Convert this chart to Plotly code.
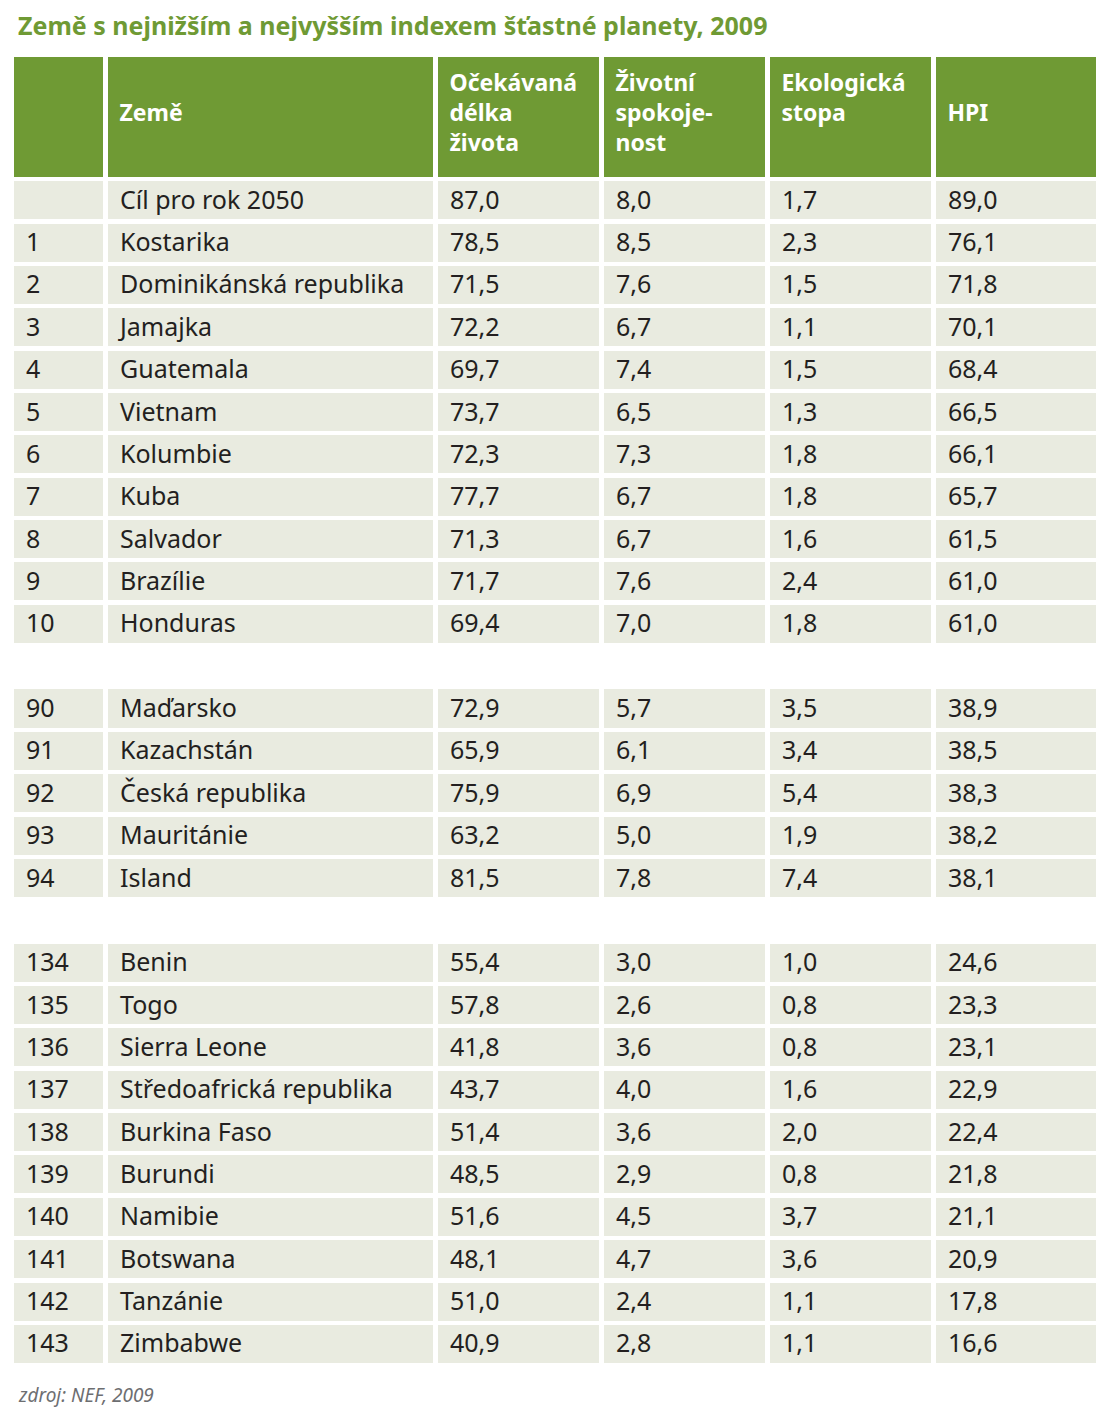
import plotly.graph_objects as go

title = "Země s nejnižším a nejvyšším indexem šťastné planety, 2009"
source = "zdroj: NEF, 2009"

headers = ["", "<br>Země", "Očekávaná<br>délka<br>života", "Životní<br>spokoje-<br>nost",
           "Ekologická<br>stopa", "<br>HPI"]

ranks = ["", "1", "2", "3", "4", "5", "6", "7", "8", "9", "10", None,
         "90", "91", "92", "93", "94", None,
         "134", "135", "136", "137", "138", "139", "140", "141", "142", "143"]
countries = ["Cíl pro rok 2050", "Kostarika", "Dominikánská republika", "Jamajka", "Guatemala",
             "Vietnam", "Kolumbie", "Kuba", "Salvador", "Brazílie", "Honduras", None,
             "Maďarsko", "Kazachstán", "Česká republika", "Mauritánie", "Island", None,
             "Benin", "Togo", "Sierra Leone", "Středoafrická republika", "Burkina Faso",
             "Burundi", "Namibie", "Botswana", "Tanzánie", "Zimbabwe"]
life_exp = [87.0, 78.5, 71.5, 72.2, 69.7, 73.7, 72.3, 77.7, 71.3, 71.7, 69.4, None,
            72.9, 65.9, 75.9, 63.2, 81.5, None,
            55.4, 57.8, 41.8, 43.7, 51.4, 48.5, 51.6, 48.1, 51.0, 40.9]
life_sat = [8.0, 8.5, 7.6, 6.7, 7.4, 6.5, 7.3, 6.7, 6.7, 7.6, 7.0, None,
            5.7, 6.1, 6.9, 5.0, 7.8, None,
            3.0, 2.6, 3.6, 4.0, 3.6, 2.9, 4.5, 4.7, 2.4, 2.8]
eco_foot = [1.7, 2.3, 1.5, 1.1, 1.5, 1.3, 1.8, 1.8, 1.6, 2.4, 1.8, None,
            3.5, 3.4, 5.4, 1.9, 7.4, None,
            1.0, 0.8, 0.8, 1.6, 2.0, 0.8, 3.7, 3.6, 1.1, 1.1]
hpi = [89.0, 76.1, 71.8, 70.1, 68.4, 66.5, 66.1, 65.7, 61.5, 61.0, 61.0, None,
       38.9, 38.5, 38.3, 38.2, 38.1, None,
       24.6, 23.3, 23.1, 22.9, 22.4, 21.8, 21.1, 20.9, 17.8, 16.6]

GREEN = "#6f9a34"
CELL = "#e9ebe0"
TEXT = "#231f20"
NB = "\u00a0"

def fmt_num(v):
    return "" if v is None else NB + f"{v:.1f}".replace(".", ",")

def fmt_txt(v):
    return "" if v is None else NB + v

def fmt_head(h):
    return "<br>".join(NB + p for p in h.split("<br>")) if h else ""

columns = [
    [fmt_txt(r) for r in ranks],
    [fmt_txt(c) for c in countries],
    [fmt_num(v) for v in life_exp],
    [fmt_num(v) for v in life_sat],
    [fmt_num(v) for v in eco_foot],
    [fmt_num(v) for v in hpi],
]
row_fill = ["white" if c is None else CELL for c in countries]
fills = [row_fill] * 6
blank = [[""] * len(countries)] * 6

W, H = 1111, 1420
x0, x1 = 11.5, 1098.5
top = 55
TEXT_SHIFT = 3
colw = [94, 330, 166, 166, 166, 165]
HEAD_H = 124
ROW_H = 42.36
LW = 4.3

# background table: fills and white gaps
fig = go.Figure(go.Table(
    domain=dict(x=[x0 / W, x1 / W], y=[0.0, 1 - top / H]),
    columnwidth=colw,
    header=dict(values=[""] * 6, fill_color=GREEN, line=dict(color="white", width=LW),
                height=HEAD_H),
    cells=dict(values=blank, fill_color=fills, line=dict(color="white", width=LW),
               height=ROW_H),
))

# text table (transparent), shifted slightly down for vertical centering
fig.add_trace(go.Table(
    domain=dict(x=[x0 / W, x1 / W], y=[0.0, 1 - (top + TEXT_SHIFT) / H]),
    columnwidth=colw,
    header=dict(
        values=[fmt_head(h) for h in headers],
        fill_color="rgba(0,0,0,0)",
        line=dict(color="rgba(0,0,0,0)", width=0),
        font=dict(family="Noto Sans", size=23, color="white", weight="bold"),
        align="left",
        height=HEAD_H,
    ),
    cells=dict(
        values=columns,
        fill_color="rgba(0,0,0,0)",
        line=dict(color="rgba(0,0,0,0)", width=0),
        font=dict(family="Noto Sans", size=25, color=TEXT),
        align="left",
        height=ROW_H,
    ),
))

fig.add_annotation(text="<b>" + title + "</b>", x=16 / W, y=1 - 25 / H, xref="paper", yref="paper",
                   xanchor="left", yanchor="middle", showarrow=False,
                   font=dict(family="Noto Sans", size=25, color=GREEN))
fig.add_annotation(text="<i>" + source + "</i>", x=16 / W, y=1 - 1395 / H, xref="paper", yref="paper",
                   xanchor="left", yanchor="middle", showarrow=False,
                   font=dict(family="Noto Sans", size=19, color="#6d6e71"))

fig.update_layout(width=W, height=H, margin=dict(l=0, r=0, t=0, b=0),
                  paper_bgcolor="white", plot_bgcolor="white")
fig.write_html("out.html", config={"displayModeBar": False},
               post_script="document.body.style.margin='0px';")
